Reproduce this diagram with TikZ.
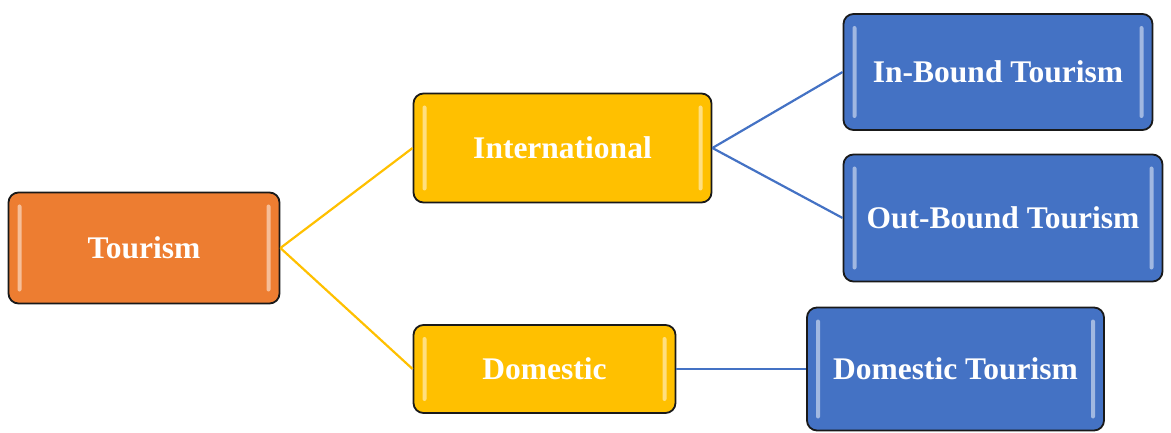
\documentclass[tikz,border=0pt]{standalone}
\usepackage{fontspec}
\setmainfont{Liberation Serif}
\usetikzlibrary{positioning}

\definecolor{tourorange}{HTML}{ED7D31}
\definecolor{touryellow}{HTML}{FFC000}
\definecolor{tourblue}{HTML}{4472C4}

\tikzset{
  box/.style={draw=black!90, line width=1.8pt, rounded corners=10pt, inner sep=0pt,
    text=white, font=\fontsize{31.5}{36}\selectfont\bfseries,
    path picture={
      \fill[white, opacity=0.5, rounded corners=2pt]
        ([xshift=9pt,yshift=-12pt]path picture bounding box.north west) rectangle
        ([xshift=13pt,yshift=12pt]path picture bounding box.south west);
      \fill[white, opacity=0.5, rounded corners=2pt]
        ([xshift=-9pt,yshift=-12pt]path picture bounding box.north east) rectangle
        ([xshift=-13pt,yshift=12pt]path picture bounding box.south east);
    }},
  rootbox/.style={box, fill=tourorange},
  midbox/.style={box, fill=touryellow},
  leafbox/.style={box, fill=tourblue},
  yline/.style={draw=touryellow, line width=2.2pt},
  bline/.style={draw=tourblue, line width=2.2pt},
}

\begin{document}
\begin{tikzpicture}[x=1pt, y=-1pt]
  \useasboundingbox (0,0) rectangle (1171,433);

  \node[rootbox, minimum width=271pt, minimum height=111pt] (tourism) at (144,248) {Tourism};
  \node[midbox, minimum width=298pt, minimum height=109pt] (intl) at (562.5,148) {International};
  \node[midbox, minimum width=262pt, minimum height=88pt] (dom) at (544.5,369) {Domestic};

  \node[leafbox, minimum width=309pt, minimum height=116pt] (inbound) at (998,72) {In-Bound Tourism};
  \node[leafbox, minimum width=319pt, minimum height=127pt] (outbound) at (1003,218) {Out-Bound Tourism};
  \node[leafbox, minimum width=297pt, minimum height=123pt] (domtour) at (955.5,369) {Domestic Tourism};

  % links
  \draw[yline] (tourism.east) -- (intl.west);
  \draw[yline] (tourism.east) -- (dom.west);
  \draw[bline] (intl.east) -- (inbound.west);
  \draw[bline] (intl.east) -- (outbound.west);
  \draw[bline] (dom.east) -- (domtour.west);
\end{tikzpicture}
\end{document}
